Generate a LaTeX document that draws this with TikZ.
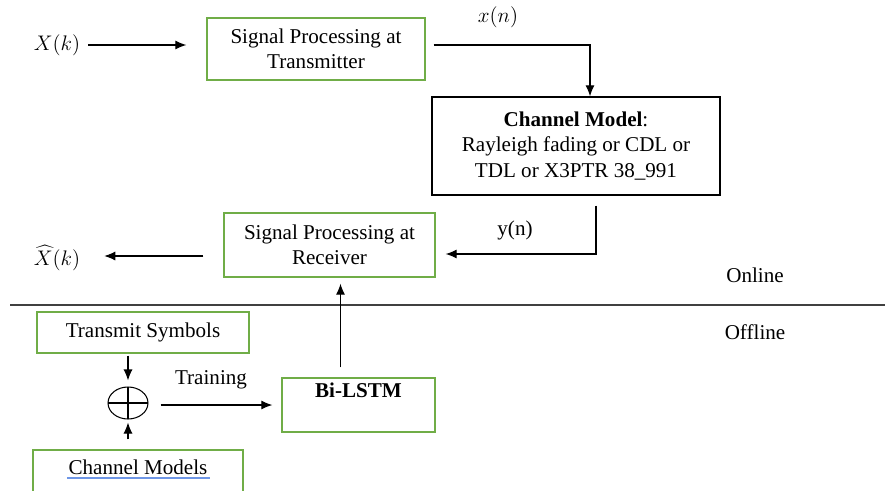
\documentclass[tikz,border=0pt]{standalone}
\usepackage{fontspec}
\setmainfont{Liberation Serif}
\usetikzlibrary{arrows.meta,positioning,calc,shapes.geometric}
\definecolor{boxgreen}{RGB}{112,173,71}
\definecolor{spellblue}{RGB}{110,150,230}

\begin{document}
\begin{tikzpicture}[
  x=0.02cm, y=-0.02cm,
  font=\fontsize{12}{14.5}\selectfont,
  block/.style={draw=boxgreen, line width=0.8pt, align=center, inner sep=0pt},
  chanbox/.style={draw, line width=0.8pt, align=center, inner sep=0pt},
  adder/.style={draw, ellipse, line width=0.6pt, minimum width=0.8cm, minimum height=0.64cm,
    path picture={\draw[line width=0.6pt] (path picture bounding box.north) -- (path picture bounding box.south)
      (path picture bounding box.west) -- (path picture bounding box.east);}},
  lbl/.style={inner sep=1pt},
  arrow/.style={-{Latex[length=2.2mm, width=1.8mm]}, line width=0.6pt}
]
\useasboundingbox (0,0) rectangle (885,490);
\clip (0,0) rectangle (885,490);

% online part
\node[lbl] (xk) at (57,45) {$X(k)$};
\node[block, minimum width=4.36cm, minimum height=1.24cm] (tx) at (316,49) {Signal Processing at\\Transmitter};
\node[lbl] (xn) at (498,17) {$x(n)$};
\node[chanbox, minimum width=5.76cm, minimum height=1.96cm] (ch) at (576,146)
  {\textbf{Channel Model}:\\Rayleigh fading or CDL or\\TDL or X3PTR 38\_991};
\node[block, minimum width=4.22cm, minimum height=1.28cm] (rx) at (329.5,245) {Signal Processing at\\Receiver};
\node[lbl] (yn) at (515,230) {y(n)};
\node[lbl] (xhat) at (57,258) {$\widehat{X}(k)$};
\node[lbl] (online) at (755,275) {Online};

% divider
\coordinate (divl) at (10,305);
\coordinate (divr) at (885,305);
\draw[line width=0.8pt, black!75] (divl) -- (divr);

% offline part
\node[lbl] (offline) at (755,332) {Offline};
\node[block, minimum width=4.24cm, minimum height=0.82cm] (sym) at (143,332.5) {Transmit Symbols};
\node[adder] (plus) at (128,403) {};
\node[block, minimum width=4.2cm, minimum height=1.2cm] (models) at (138,480) {Channel Models\\\mbox{}};
\node[block, minimum width=3.06cm, minimum height=1.08cm] (lstm) at (358.5,405) {\textbf{Bi-LSTM}\\[2pt]\mbox{}};
\node[lbl] (train) at (211,380) {Training};
\draw[spellblue, line width=1pt] ($(models.center)+(-71,-2)$) -- ($(models.center)+(72,-2)$);

% connectors
\draw[arrow] ($(xk.east)+(6,0)$) -- ($(tx.west |- xk)+(-20,0)$);
\draw[arrow] ($(tx.east)+(8,-4)$) -| ($(ch.north)+(14,0)$);
\draw[arrow] ($(ch.south)+(20,10)$) |- ($(rx.east)+(10,9)$);
\draw[arrow] ($(rx.west)+(-20,11)$) -- ($(xhat.east)+(22,-2)$);
\coordinate (up) at ($(lstm.north)+(-18,-10)$);
\draw[arrow] (up) -- ($(up |- rx.south)+(0,6)$);
\draw[arrow] ($(plus |- sym.south)+(0,2)$) -- ($(plus.north)+(0,-6)$);
\draw[arrow] ($(plus |- models.north)+(0,-10)$) -- ($(plus.south)+(0,3)$);
\coordinate (trainstart) at ($(plus.east)+(12,2)$);
\draw[arrow] (trainstart) -- ($(lstm.west |- trainstart)+(-9,0)$);
\end{tikzpicture}
\end{document}
